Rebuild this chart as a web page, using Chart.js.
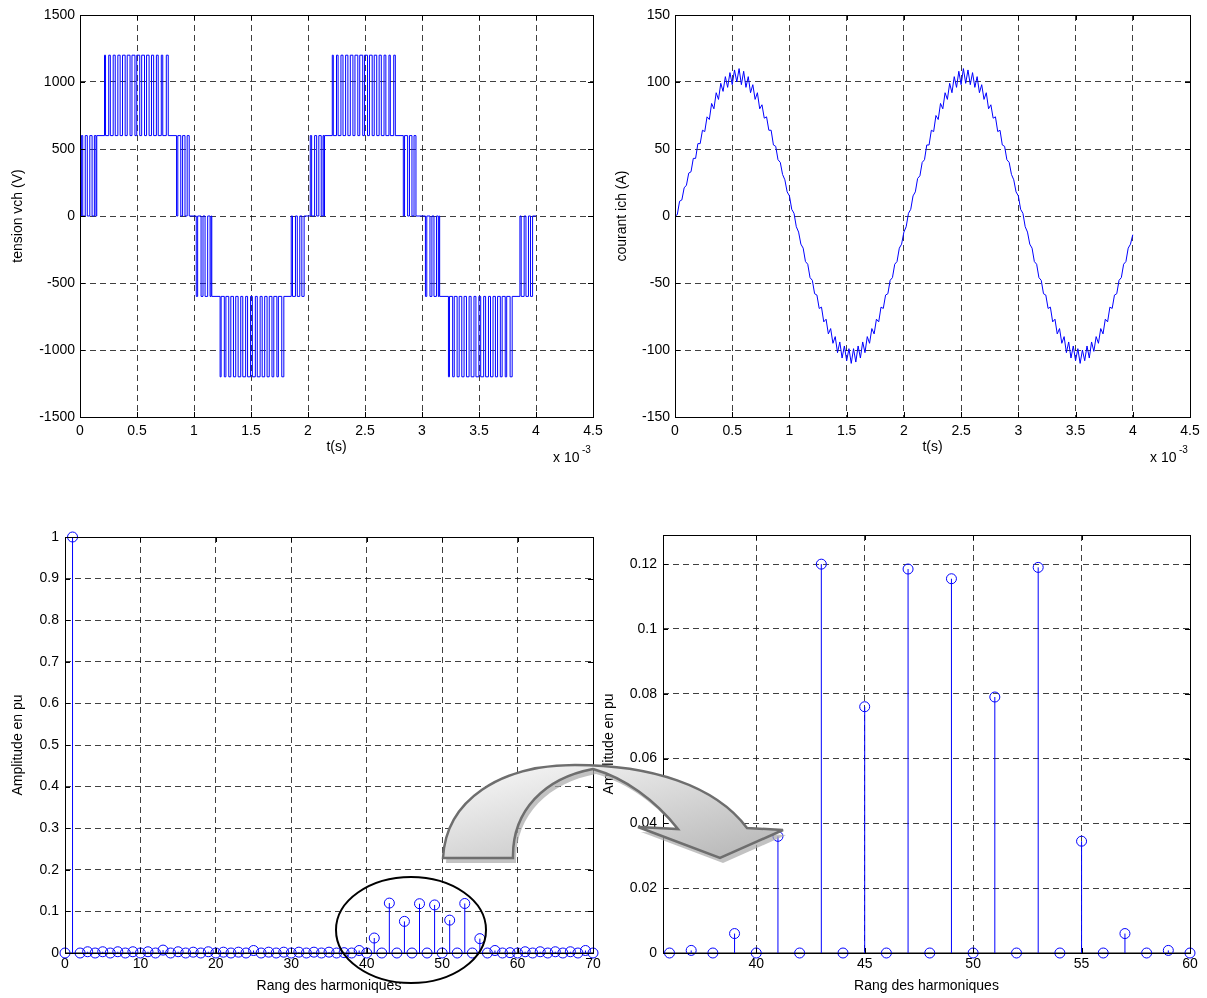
<!DOCTYPE html>
<html>
<head>
<meta charset="utf-8">
<script src="https://cdn.jsdelivr.net/npm/chart.js@4.4.1/dist/chart.umd.min.js"></script>
<style>
  html, body { margin: 0; padding: 0; background: #fff; }
  body { width: 1207px; height: 998px; position: relative; overflow: hidden; }
  canvas { position: absolute; }
  svg { position: absolute; left: 0; top: 0; pointer-events: none; }
</style>
</head>
<body>
<canvas id="vchChart" width="620" height="477" style="left:0;top:0"></canvas>
<canvas id="ichChart" width="607" height="477" style="left:600px;top:0"></canvas>
<canvas id="spectrumChart" width="620" height="495" style="left:0;top:500px"></canvas>
<canvas id="zoomChart" width="607" height="495" style="left:600px;top:500px"></canvas>

<svg width="1207" height="998" viewBox="0 0 1207 998">
  <defs>
    <linearGradient id="arrowFill" x1="0" y1="0" x2="1" y2="1">
      <stop offset="0" stop-color="#fbfbfb"/>
      <stop offset="1" stop-color="#b4b4b4"/>
    </linearGradient>
  </defs>
  <ellipse cx="411" cy="930" rx="75" ry="53" fill="none" stroke="#000" stroke-width="2"/>
  <path transform="translate(3,5)" fill="#a8a8a8" opacity="0.7"
        d="M443 858 C446 800 500 765 575 765 C650 765 715 785 747 828 L783 830 L720 858 L638 827 L678 829 C655 800 625 778 593 769 C545 778 512 810 513 858 Z"/>
  <path fill="url(#arrowFill)" stroke="#6e6e6e" stroke-width="2.5" stroke-linejoin="miter"
        d="M443 858 C446 800 500 765 575 765 C650 765 715 785 747 828 L783 830 L720 858 L638 827 L678 829 C655 800 625 778 593 769 C545 778 512 810 513 858 Z"/>
</svg>

<script>
// tension vch : [instant (ms), niveau apres commutation (V)]
const vchSteps = [
  [0, 0],
  [0.012, 600], [0.024, 0], [0.046, 600], [0.064, 0], [0.086, 600], [0.106, 0], [0.126, 600], [0.140, 0], [0.147, 600],
  [0.215, 1200], [0.224, 600], [0.252, 1200], [0.266, 600], [0.291, 1200], [0.309, 600], [0.332, 1200], [0.352, 600],
  [0.373, 1200], [0.396, 600], [0.414, 1200], [0.439, 600], [0.456, 1200], [0.482, 600], [0.498, 1200], [0.524, 600],
  [0.541, 1200], [0.566, 600], [0.584, 1200], [0.606, 600], [0.627, 1200], [0.646, 600], [0.670, 1200], [0.686, 600],
  [0.713, 1200], [0.726, 600], [0.757, 1200], [0.774, 600],
  [0.847, 0], [0.858, 600], [0.884, 0], [0.900, 600], [0.921, 0], [0.940, 600], [0.958, 0],
  [1.020, -600], [1.032, 0], [1.062, -600], [1.079, 0], [1.097, -600], [1.120, 0], [1.141, -600], [1.150, 0], [1.156, -600],
  [1.229, -1200], [1.238, -600], [1.266, -1200], [1.280, -600], [1.305, -1200], [1.323, -600], [1.346, -1200], [1.366, -600],
  [1.387, -1200], [1.410, -600], [1.428, -1200], [1.453, -600], [1.470, -1200], [1.496, -600], [1.512, -1200], [1.538, -600],
  [1.555, -1200], [1.580, -600], [1.598, -1200], [1.620, -600], [1.641, -1200], [1.660, -600], [1.684, -1200], [1.700, -600],
  [1.727, -1200], [1.740, -600], [1.770, -1200], [1.788, -600],
  [1.853, 0], [1.864, -600], [1.890, 0], [1.906, -600], [1.928, 0], [1.946, -600], [1.966, 0],
  [2.020, 600], [2.032, 0], [2.058, 600], [2.076, 0], [2.095, 600], [2.116, 0], [2.132, 600], [2.140, 0], [2.145, 600],
  [2.213, 1200], [2.222, 600], [2.250, 1200], [2.264, 600], [2.289, 1200], [2.307, 600], [2.330, 1200], [2.350, 600],
  [2.371, 1200], [2.394, 600], [2.412, 1200], [2.437, 600], [2.454, 1200], [2.480, 600], [2.496, 1200], [2.522, 600],
  [2.539, 1200], [2.563, 600], [2.581, 1200], [2.603, 600], [2.624, 1200], [2.643, 600], [2.667, 1200], [2.683, 600],
  [2.710, 1200], [2.722, 600], [2.752, 1200], [2.766, 600],
  [2.836, 0], [2.847, 600], [2.874, 0], [2.890, 600], [2.912, 0], [2.930, 600], [2.947, 0],
  [3.030, -600], [3.042, 0], [3.070, -600], [3.087, 0], [3.105, -600], [3.127, 0], [3.143, -600], [3.150, 0], [3.155, -600],
  [3.232, -1200], [3.241, -600], [3.269, -1200], [3.283, -600], [3.308, -1200], [3.326, -600], [3.349, -1200], [3.369, -600],
  [3.390, -1200], [3.413, -600], [3.431, -1200], [3.456, -600], [3.473, -1200], [3.499, -600], [3.515, -1200], [3.541, -600],
  [3.558, -1200], [3.583, -600], [3.601, -1200], [3.623, -600], [3.644, -1200], [3.663, -600], [3.687, -1200], [3.703, -600],
  [3.730, -1200], [3.743, -600], [3.773, -1200], [3.791, -600],
  [3.859, 0], [3.870, -600], [3.896, 0], [3.912, -600], [3.934, 0], [3.952, -600], [3.970, 0],
  [4.000, 0]
];

// courant ich (A), un echantillon toutes les 0.02 ms
const ichStepMs = 0.02;
const ichValues = [
  0, 1, 11, 12, 21, 23, 32, 33, 43, 43, 54, 54, 64, 63, 74, 72, 84, 80, 92, 87, 99, 93, 104, 96, 107, 98,
  109, 100, 110, 98, 108, 96, 104, 92, 98, 87, 92, 80, 83, 73, 74, 64, 64, 53, 52, 42, 40, 31, 27, 18, 15, 5, 2,
  -8, -12, -21, -24, -34, -36, -46, -48, -58, -59, -69, -68, -79, -77, -88, -84, -95, -90, -102, -94, -106, -97,
  -108, -99, -110, -99, -109, -97, -106, -94, -102, -90, -95, -84, -88, -77, -79, -68, -69, -59, -58, -48, -46,
  -36, -34, -24, -21, -12, -8, 2,
  5, 15, 18, 28, 30, 40, 42, 53, 53, 64, 63, 75, 72, 84, 80, 92, 87, 99, 92, 104, 96, 108, 98, 110, 99, 109,
  98, 107, 96, 104, 92, 98, 87, 92, 80, 83, 73, 74, 63, 64, 53, 52, 42, 40, 31, 27, 18, 15, 5, 2,
  -8, -12, -21, -24, -34, -36, -46, -48, -58, -59, -69, -68, -79, -77, -88, -84, -95, -90, -102, -94, -106, -97,
  -108, -99, -110, -100, -108, -97, -106, -94, -101, -90, -95, -84, -88, -77, -79, -68, -69, -59, -58, -48, -46,
  -36, -34, -24, -21, -14
];

// spectre : rang 0..70, amplitude en pu
const harmonicRanks = [
  0, 1, 2, 3, 4, 5, 6, 7, 8, 9, 10, 11, 12, 13, 14, 15, 16, 17, 18, 19, 20, 21, 22, 23, 24, 25, 26, 27, 28, 29, 30,
  31, 32, 33, 34, 35, 36, 37, 38, 39, 40, 41, 42, 43, 44, 45, 46, 47, 48, 49, 50, 51, 52, 53, 54, 55, 56, 57, 58,
  59, 60, 61, 62, 63, 64, 65, 66, 67, 68, 69, 70
];
const harmonicAmps = [
  0, 1, 0, 0.003, 0, 0.003, 0, 0.003, 0, 0.003, 0, 0.003, 0, 0.007, 0, 0.003, 0, 0.002, 0, 0.003, 0,
  0.002, 0, 0.002, 0, 0.006, 0, 0.002, 0, 0.002, 0, 0.002, 0, 0.002, 0, 0.002, 0, 0.0008, 0, 0.006, 0,
  0.036, 0, 0.120, 0, 0.076, 0, 0.1185, 0, 0.1155, 0, 0.079, 0, 0.119, 0, 0.0345, 0, 0.006, 0, 0.0008, 0,
  0.003, 0, 0.003, 0, 0.003, 0, 0.003, 0, 0.006, 0
];

const timeTicks = [0, 0.5, 1, 1.5, 2, 2.5, 3, 3.5, 4, 4.5];
const vchTicks = [-1500, -1000, -500, 0, 500, 1000, 1500];
const ichTicks = [-150, -100, -50, 0, 50, 100, 150];
const rankTicks = [0, 10, 20, 30, 40, 50, 60, 70];
const ampTicks = [0, 0.1, 0.2, 0.3, 0.4, 0.5, 0.6, 0.7, 0.8, 0.9, 1];
const zoomRankTicks = [40, 45, 50, 55, 60];
const zoomAmpTicks = [0, 0.02, 0.04, 0.06, 0.08, 0.1, 0.12];

const FAMILY = "'Liberation Sans', Arial, Helvetica, sans-serif";
const FONT = { family: FAMILY, size: 14 };
const BLUE = '#0000ff';
const fmt = v => String(Math.round(v * 10000) / 10000);

// axe lineaire facon matlab : grille en tirets, taille fixe
const axis = o => ({
  type: 'linear',
  position: o.position,
  min: o.min,
  max: o.max,
  afterBuildTicks: s => { s.ticks = o.ticks.map(v => ({ value: v })); },
  afterFit: s => {
    if (o.position === 'bottom') s.height = o.size; else s.width = o.size;
  },
  grid: { color: 'rgba(0,0,0,0.75)', lineWidth: 1, drawTicks: false },
  border: { display: false, dash: [6, 4] },
  ticks: { color: '#000', font: FONT, padding: o.pad, autoSkip: false, maxRotation: 0, callback: v => fmt(v) },
  title: { display: true, text: o.title, color: '#000', font: FONT, padding: o.titlePad }
});

// cadre noir + petites graduations interieures
const boxPlugin = {
  id: 'box',
  afterDraw(chart) {
    const { ctx, chartArea: a, scales } = chart;
    ctx.save();
    ctx.strokeStyle = '#000';
    ctx.lineWidth = 1;
    ctx.strokeRect(a.left + 0.5, a.top + 0.5, a.right - a.left, a.bottom - a.top);
    ctx.beginPath();
    scales.x.ticks.forEach(t => {
      const px = Math.round(scales.x.getPixelForValue(t.value)) + 0.5;
      ctx.moveTo(px, a.bottom); ctx.lineTo(px, a.bottom - 5);
      ctx.moveTo(px, a.top); ctx.lineTo(px, a.top + 5);
    });
    scales.y.ticks.forEach(t => {
      const py = Math.round(scales.y.getPixelForValue(t.value)) + 0.5;
      ctx.moveTo(a.left, py); ctx.lineTo(a.left + 5, py);
      ctx.moveTo(a.right, py); ctx.lineTo(a.right - 5, py);
    });
    ctx.stroke();
    ctx.restore();
  }
};

const exponentPlugin = {
  id: 'exponent',
  afterDraw(chart) {
    const { ctx, chartArea: a } = chart;
    ctx.save();
    ctx.fillStyle = '#000';
    ctx.textAlign = 'left';
    ctx.textBaseline = 'alphabetic';
    ctx.font = '14px ' + FAMILY;
    ctx.fillText('x 10', a.right - 40, a.bottom + 45);
    ctx.font = '10px ' + FAMILY;
    ctx.fillText('-3', a.right - 11, a.bottom + 36);
    ctx.restore();
  }
};

const baseOptions = (padTop, padRight, xAxis, yAxis) => ({
  responsive: false,
  animation: false,
  events: [],
  layout: { padding: { left: 0, top: padTop, right: padRight, bottom: 0 } },
  plugins: { legend: { display: false }, tooltip: { enabled: false } },
  scales: { x: xAxis, y: yAxis }
});

new Chart(document.getElementById('vchChart'), {
  type: 'line',
  data: {
    datasets: [{
      data: vchSteps.map(([t, v]) => ({ x: t, y: v })),
      stepped: true,
      borderColor: BLUE,
      borderWidth: 1,
      pointRadius: 0,
      fill: false
    }]
  },
  options: baseOptions(15, 27,
    axis({ position: 'bottom', min: 0, max: 4.5, ticks: timeTicks, size: 60, pad: 6, title: 't(s)', titlePad: { top: 0, bottom: 21 } }),
    axis({ position: 'left', min: -1500, max: 1500, ticks: vchTicks, size: 80, pad: 5, title: 'tension vch (V)', titlePad: { top: 10, bottom: 0 } })),
  plugins: [boxPlugin, exponentPlugin]
});

new Chart(document.getElementById('ichChart'), {
  type: 'line',
  data: {
    datasets: [{
      data: ichValues.map((v, i) => ({ x: i * ichStepMs, y: v })),
      borderColor: BLUE,
      borderWidth: 1,
      pointRadius: 0,
      tension: 0,
      fill: false
    }]
  },
  options: baseOptions(15, 17,
    axis({ position: 'bottom', min: 0, max: 4.5, ticks: timeTicks, size: 60, pad: 6, title: 't(s)', titlePad: { top: 0, bottom: 21 } }),
    axis({ position: 'left', min: -150, max: 150, ticks: ichTicks, size: 75, pad: 5, title: 'courant ich (A)', titlePad: { top: 14, bottom: 0 } })),
  plugins: [boxPlugin, exponentPlugin]
});

// stems : segments verticaux separes par des trous + cercles vides
const stemDatasets = (ranks, amps, xMin, xMax) => [
  {
    type: 'scatter',
    data: ranks.map((r, i) => ({ x: r, y: amps[i] })),
    showLine: false,
    pointStyle: 'circle',
    pointRadius: 5,
    pointBorderWidth: 1,
    pointBorderColor: BLUE,
    pointBackgroundColor: 'rgba(0,0,0,0)',
    clip: false
  },
  {
    type: 'line',
    data: ranks.flatMap((r, i) => [{ x: r, y: 0 }, { x: r, y: amps[i] }, { x: r, y: null }]),
    borderColor: BLUE,
    borderWidth: 1,
    pointRadius: 0,
    spanGaps: false,
    clip: false
  },
  {
    type: 'line',
    data: [{ x: xMin, y: 0 }, { x: xMax, y: 0 }],
    borderColor: '#000',
    borderWidth: 1,
    pointRadius: 0
  }
];

new Chart(document.getElementById('spectrumChart'), {
  type: 'line',
  data: { datasets: stemDatasets(harmonicRanks, harmonicAmps, 0, 70) },
  options: baseOptions(37, 27,
    axis({ position: 'bottom', min: 0, max: 70, ticks: rankTicks, size: 42, pad: 3, title: 'Rang des harmoniques', titlePad: { top: 0, bottom: 0 } }),
    axis({ position: 'left', min: 0, max: 1, ticks: ampTicks, size: 65, pad: 6, title: 'Amplitude en pu', titlePad: { top: 10, bottom: 0 } })),
  plugins: [boxPlugin]
});

const zoomRanks = harmonicRanks.filter(r => r >= 36 && r <= 60);
const zoomAmps = zoomRanks.map(r => harmonicAmps[harmonicRanks.indexOf(r)]);

new Chart(document.getElementById('zoomChart'), {
  type: 'line',
  data: { datasets: stemDatasets(zoomRanks, zoomAmps, 35.7, 60) },
  options: baseOptions(35, 17,
    axis({ position: 'bottom', min: 35.7, max: 60, ticks: zoomRankTicks, size: 42, pad: 3, title: 'Rang des harmoniques', titlePad: { top: 0, bottom: 0 } }),
    axis({ position: 'left', min: 0, max: 0.129, ticks: zoomAmpTicks, size: 63, pad: 6, title: 'Amplitude en pu', titlePad: { top: 1, bottom: 0 } })),
  plugins: [boxPlugin]
});
</script>
</body>
</html>
